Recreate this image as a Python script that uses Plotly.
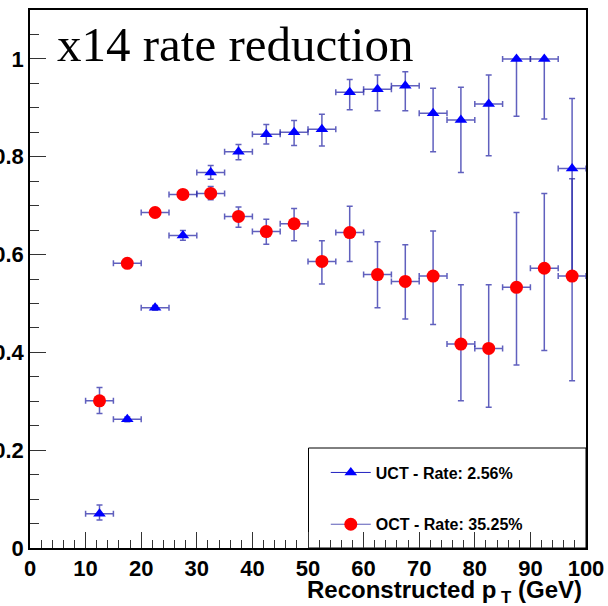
import plotly.graph_objects as go

# ---- data ----
pt_center = [12.5, 17.5, 22.5, 27.5, 32.5, 37.5, 42.5, 47.5, 52.5,
             57.5, 62.5, 67.5, 72.5, 77.5, 82.5, 87.5, 92.5, 97.5]
bin_half_width = 2.5

uct_eff = [0.070, 0.263, 0.491, 0.639, 0.768, 0.810, 0.846, 0.850, 0.856,
           0.932, 0.938, 0.945, 0.889, 0.875, 0.908, 1.000, 1.000, 0.776]
uct_err_up = [0.018, 0.005, 0.005, 0.010, 0.014, 0.015, 0.020, 0.024, 0.031,
              0.026, 0.029, 0.029, 0.051, 0.067, 0.059, 0.000, 0.000, 0.143]
uct_err_down = [0.013, 0.005, 0.005, 0.010, 0.014, 0.016, 0.020, 0.027, 0.034,
                0.036, 0.044, 0.051, 0.079, 0.107, 0.106, 0.117, 0.123, 0.220]

oct_eff = [0.301, 0.582, 0.686, 0.723, 0.725, 0.678, 0.647, 0.663, 0.586,
           0.645, 0.559, 0.545, 0.556, 0.417, 0.408, 0.533, 0.572, 0.556]
oct_err_up = [0.027, 0.007, 0.007, 0.008, 0.014, 0.019, 0.025, 0.031, 0.042,
              0.054, 0.067, 0.075, 0.092, 0.121, 0.130, 0.153, 0.153, 0.199]
oct_err_down = [0.026, 0.007, 0.007, 0.008, 0.013, 0.022, 0.026, 0.035, 0.046,
                0.059, 0.068, 0.077, 0.099, 0.116, 0.120, 0.159, 0.168, 0.214]

uct_label = "UCT - Rate: 2.56%"
oct_label = "OCT - Rate: 35.25%"
title_text = "x14 rate reduction"
x_title = "Reconstructed p<sub> T</sub> (GeV)"

err_color = "rgba(35,35,165,0.72)"
uct_color = "#0000ff"
oct_color = "#ff0000"

fig = go.Figure()

fig.add_trace(go.Scatter(
    x=pt_center, y=uct_eff, mode="markers", showlegend=False,
    marker=dict(symbol="triangle-up", size=11, color=uct_color),
    error_x=dict(type="constant", value=bin_half_width, color=err_color, thickness=1.5, width=3),
    error_y=dict(type="data", array=uct_err_up, arrayminus=uct_err_down, symmetric=False,
                 color=err_color, thickness=1.5, width=3),
))
fig.add_trace(go.Scatter(
    x=pt_center, y=oct_eff, mode="markers", showlegend=False,
    marker=dict(symbol="circle", size=13, color=oct_color),
    error_x=dict(type="constant", value=bin_half_width, color=err_color, thickness=1.5, width=3),
    error_y=dict(type="data", array=oct_err_up, arrayminus=oct_err_down, symmetric=False,
                 color=err_color, thickness=1.5, width=3),
))

# legend proxies (line + marker sample, as in the original legend)
fig.add_trace(go.Scatter(
    x=[None], y=[None], mode="lines+markers", name=uct_label, legendgroup="a",
    line=dict(color="#2020c0", width=1),
    marker=dict(symbol="triangle-up", size=11, color=uct_color),
))
fig.add_trace(go.Scatter(
    x=[None], y=[None], mode="lines+markers", name=oct_label, legendgroup="b",
    line=dict(color="#5a5ab8", width=1),
    marker=dict(symbol="circle", size=13, color=oct_color),
))

axis_font = dict(family="Liberation Sans, Arial, sans-serif", size=22, color="black", weight="bold")

fig.update_xaxes(
    range=[0, 100], tick0=0, dtick=10, ticks="inside", ticklen=16, tickwidth=1,
    tickcolor="#333", showline=True, linecolor="black", linewidth=1.5, mirror=True,
    showgrid=False, zeroline=False, tickfont=axis_font, automargin=False,
    minor=dict(dtick=2, ticks="inside", ticklen=8, tickcolor="#333", tickwidth=1, showgrid=False),
)
fig.update_yaxes(
    range=[0, 1.1], tick0=0, dtick=0.2, ticks="inside", ticklen=16, tickwidth=1,
    tickcolor="#333", showline=True, linecolor="black", linewidth=1.5, mirror=True,
    showgrid=False, zeroline=False, tickfont=axis_font, automargin=False,
    minor=dict(dtick=0.05, ticks="inside", ticklen=9, tickcolor="#333", tickwidth=1, showgrid=False),
)

fig.update_layout(
    width=608, height=606,
    margin=dict(l=30, r=22, t=10, b=58),
    paper_bgcolor="white", plot_bgcolor="white",
    template="none",
    legend=dict(
        x=0.532, y=0.012, xanchor="left", yanchor="bottom",
        bgcolor="rgba(0,0,0,0)", borderwidth=0,
        font=dict(family="Liberation Sans, Arial, sans-serif", size=16, color="black", weight="bold"),
        traceorder="grouped", tracegroupgap=28, itemwidth=40,
    ),
    shapes=[dict(type="rect", xref="paper", yref="paper",
                 x0=(308 - 30) / 555, x1=1.0, y0=0.0, y1=(548 - 448) / 538,
                 line=dict(color="black", width=1), fillcolor="white", layer="below")],
    annotations=[
        dict(text=title_text, xref="paper", yref="paper", x=0.045, y=0.99,
             xanchor="left", yanchor="top", showarrow=False,
             font=dict(family="Liberation Serif, Times New Roman, serif", size=49, color="black")),
        dict(text=x_title, xref="paper", yref="paper", x=0.997, y=-0.048,
             xanchor="right", yanchor="top", showarrow=False,
             font=dict(family="Liberation Sans, Arial, sans-serif", size=24, color="black", weight="bold")),
    ],
)

fig.write_html("out.html", config={"displayModeBar": False},
               post_script="document.body.style.margin='0';")
